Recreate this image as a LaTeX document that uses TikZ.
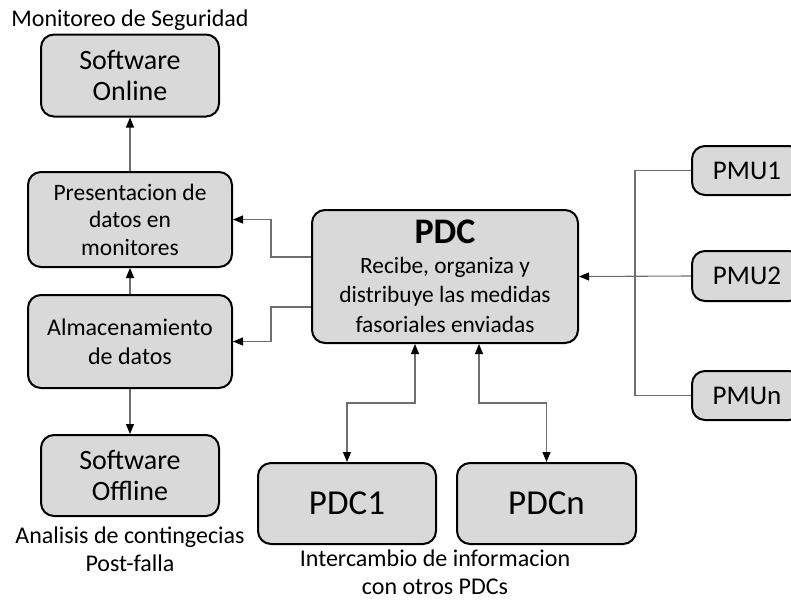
\documentclass[tikz,border=0pt]{standalone}
\usepackage{fontspec}
\setmainfont{Carlito}
\usetikzlibrary{arrows.meta}
\definecolor{boxgray}{RGB}{217,217,217}
\definecolor{wiregray}{RGB}{110,110,110}
\tikzset{
	blok/.style={draw=black, line width=2pt, fill=boxgray, rounded corners=13pt, align=center, inner sep=0pt},
	wire/.style={draw=wiregray, line width=1.1pt},
	arr/.style={wire, -{Triangle[length=10pt,width=8pt,black]}},
	darr/.style={wire, {Triangle[length=10pt,width=8pt,black]}-{Triangle[length=10pt,width=8pt,black]}},
	lbl/.style={align=center, inner sep=0pt, font=\fontsize{24}{28}\selectfont}
}

\begin{document}
\begin{tikzpicture}[x=1pt, y=-1pt]
			%%%%% START %%%%%
			\useasboundingbox (0, 0) rectangle (791, 600);
			\clip (0, 0) rectangle (791, 600);
			
			% left column
			\node[lbl] (monit) at (130, 20) {Monitoreo de Seguridad};
			\node[blok, minimum width=178pt, minimum height=82pt, font=\fontsize{28}{31}\selectfont] (son) at (130, 75.5) {Software\\Online};
			\node[blok, minimum width=204pt, minimum height=95pt, font=\fontsize{23.5}{27.5}\selectfont] (pres) at (130, 219.5) {Presentacion de\\datos en\\monitores};
			\node[blok, minimum width=204pt, minimum height=93pt, font=\fontsize{24}{29}\selectfont] (alm) at (130, 341.5) {Almacenamiento\\de datos};
			\node[blok, minimum width=178pt, minimum height=81pt, font=\fontsize{28}{31}\selectfont] (soff) at (130, 475.5) {Software\\Offline};
			\node[lbl] (anal) at (130, 549) {Analisis de contingecias\\Post-falla};
			
			% PDC
			\node[blok, minimum width=266pt, minimum height=133pt, font=\fontsize{23.4}{29.5}\selectfont] (pdc) at (445, 276.5) {{\fontsize{36}{36}\selectfont\bfseries PDC}\\Recibe, organiza y\\distribuye las medidas\\fasoriales enviadas};
			\node[blok, minimum width=178pt, minimum height=81pt, font=\fontsize{35}{36}\selectfont] (pdc1) at (347, 503.5) {PDC1};
			\node[blok, minimum width=179pt, minimum height=81pt, font=\fontsize{35}{36}\selectfont] (pdcn) at (546.5, 503.5) {PDCn};
			\node[lbl] (inter) at (435, 572) {Intercambio de informacion\\con otros PDCs};
			
			% PMUs
			\node[blok, minimum width=110pt, minimum height=49pt, font=\fontsize{27}{30}\selectfont] (pmu1) at (747, 170.5) {PMU1};
			\node[blok, minimum width=110pt, minimum height=50pt, font=\fontsize{27}{30}\selectfont] (pmu2) at (747, 276) {PMU2};
			\node[blok, minimum width=110pt, minimum height=49pt, font=\fontsize{27}{30}\selectfont] (pmun) at (747, 395.5) {PMUn};
			\coordinate (bus) at (635, 0);
			
			% connectors
			\draw[arr] (pres.north) -- (son.south);
			\draw[arr] (alm.north) -- (pres.south);
			\draw[arr] (alm.south) -- (soff.north);
			\draw[arr] ([yshift=19.5pt]pdc.west) -- ++(-40, 0) |- (pres.east);
			\draw[arr] ([yshift=-30.5pt]pdc.west) -- ++(-40, 0) |- (alm.east);
			\draw[darr] ([xshift=-30pt]pdc.south) -- ++(0, 59) -| (pdc1.north);
			\draw[darr] ([xshift=34pt]pdc.south) -- ++(0, 59) -| (pdcn.north);
			\draw[wire] (pmu1.west) -- (bus |- pmu1.west) -- (bus |- pmun.west) -- (pmun.west);
			\draw[arr] (pmu2.west) -- (pdc.east);
			
			%%%%% END %%%%%
\end{tikzpicture}
\end{document}
